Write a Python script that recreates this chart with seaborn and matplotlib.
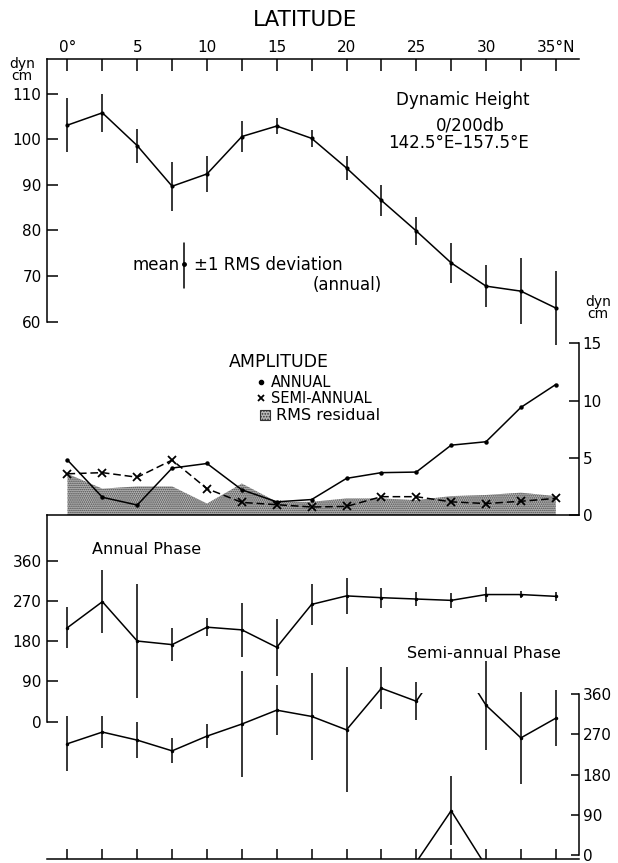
import numpy as np
import pandas as pd
import seaborn as sns
import matplotlib
matplotlib.use("Agg")
import matplotlib.pyplot as plt
from matplotlib.patches import Rectangle
from matplotlib.lines import Line2D

# ---------------- data ----------------
lat = [0, 2.5, 5, 7.5, 10, 12.5, 15, 17.5, 20, 22.5, 25, 27.5, 30, 32.5, 35]

dyn_mean = [103.1, 105.8, 98.6, 89.7, 92.4, 100.6, 102.9, 100.2, 93.7, 86.6, 79.9, 72.9, 67.8, 66.7, 63.0]
dyn_rms = [6.0, 4.1, 3.7, 5.4, 3.9, 3.3, 1.8, 1.9, 2.7, 3.4, 3.1, 4.4, 4.6, 7.2, 8.2]

amp_annual = [4.8, 1.55, 0.87, 4.1, 4.5, 2.2, 1.15, 1.35, 3.2, 3.7, 3.75, 6.1, 6.4, 9.4, 11.4]
amp_semi = [3.6, 3.7, 3.3, 4.8, 2.3, 1.1, 0.9, 0.7, 0.75, 1.6, 1.6, 1.15, 1.0, 1.2, 1.45]
rms_resid = [3.6, 2.3, 2.5, 2.5, 1.0, 2.75, 1.15, 1.15, 1.45, 1.45, 1.3, 1.65, 1.75, 1.95, 1.65]

ann_phase = [210, 268, 180, 172, 211, 205, 166, 262, 281, 277, 274, 271, 284, 284, 280]
ann_err = [46, 70, 127, 37, 20, 60, 64, 46, 40, 22, 15, 17, 17, 8, 10]

semi_phase = [249, 275, 257, 233, 266, 293, 324, 310, 280, 373, 344, 99, 335, 262, 306]
semi_err = [62, 35, 41, 28, 26, 118, 56, 98, 140, 47, 42, 77, 100, 103, 63]

x_major = [0, 5, 10, 15, 20, 25, 30, 35]
x_major_labels = ["0°", "5", "10", "15", "20", "25", "30", "35°N"]
x_minor = [2.5, 7.5, 12.5, 17.5, 22.5, 27.5, 32.5]
dyn_ticks = [60, 70, 80, 90, 100, 110]
amp_ticks = [0, 5, 10, 15]
phase_ticks = [0, 90, 180, 270, 360]

# ---------------- style ----------------
sns.set_style("ticks")
plt.rcParams["font.family"] = ["DejaVu Sans"]
for key in ["text.color", "axes.edgecolor", "axes.labelcolor", "xtick.color", "ytick.color"]:
    plt.rcParams[key] = "black"
plt.rcParams["hatch.linewidth"] = 0.8
plt.rcParams["hatch.color"] = "#444444"

W, H = 618, 863
fig = plt.figure(figsize=(W / 100, H / 100), dpi=100)
fig.patch.set_facecolor("white")

def rect(x0, y0, x1, y1):
    return [x0 / W, 1 - y1 / H, (x1 - x0) / W, (y1 - y0) / H]

def ftext(x, y, s, **kw):
    fig.text(x / W, 1 - y / H, s, **kw)

XL = 46.5
XR = 578.5
xlim = (-1.505, 36.63)
k = "black"
LW = 1.1
STIP = "#b8b8b8"
DOT = dict(marker="o", markersize=2.5, markeredgewidth=0, markerfacecolor=k, markeredgecolor=k)

# ---------------- top panel: dynamic height ----------------
ax1 = fig.add_axes(rect(XL, 59, XR, 321.7))
ax1.set_facecolor("none")
df1 = pd.DataFrame({"lat": lat, "h": dyn_mean, "r": dyn_rms})
sns.lineplot(data=df1, x="lat", y="h", ax=ax1, color=k, lw=LW, **{**DOT, "markersize": 3})
ax1.vlines(df1["lat"], df1["h"] - df1["r"], df1["h"] + df1["r"], color=k, lw=LW,
           clip_on=False)
ax1.set_xlim(*xlim)
ax1.set_ylim(60, 117.6)
for s in ["right", "bottom"]:
    ax1.spines[s].set_visible(False)
for s in ["top", "left"]:
    ax1.spines[s].set_linewidth(LW)
ax1.xaxis.tick_top()
ax1.set_xticks(x_major)
ax1.set_xticklabels(x_major_labels)
ax1.set_xticks(x_minor, minor=True)
ax1.tick_params(axis="x", which="both", direction="in", length=8.5, width=LW,
                top=True, bottom=False, labeltop=True, labelbottom=False,
                labelsize=11, pad=3)
ax1.set_yticks(dyn_ticks)
ax1.tick_params(axis="y", direction="in", length=8, width=LW, labelsize=11, pad=3.5)
ax1.set_xlabel("")
ax1.set_ylabel("")

# ---------------- amplitude panel ----------------
ax2 = fig.add_axes(rect(XL, 343.3, XR, 515))
ax2.set_facecolor("none")
df2 = pd.DataFrame({"lat": lat, "a": amp_annual, "s": amp_semi, "r": rms_resid})
ax2.fill_between(df2["lat"], 0, df2["r"], facecolor=STIP, edgecolor="#444444",
                 hatch="........", linewidth=0, zorder=1)
sns.lineplot(data=df2, x="lat", y="a", ax=ax2, color=k, lw=LW, zorder=3,
             **{**DOT, "markersize": 3.2})
sns.lineplot(data=df2, x="lat", y="s", ax=ax2, color=k, lw=LW, marker="x",
             markersize=5.5, markeredgewidth=1.3, markeredgecolor=k, markerfacecolor=k,
             dashes=False, linestyle=(0, (5, 2.5)), zorder=3)
ax2.set_xlim(*xlim)
ax2.set_ylim(0, 15)
for s in ["left", "top"]:
    ax2.spines[s].set_visible(False)
for s in ["right", "bottom"]:
    ax2.spines[s].set_linewidth(LW)
ax2.yaxis.tick_right()
ax2.set_yticks(amp_ticks)
ax2.tick_params(axis="y", direction="in", length=7, width=LW, labelsize=11, pad=3,
                right=True, left=False, labelright=True, labelleft=False)
ax2.tick_params(axis="x", bottom=False, labelbottom=False)
ax2.set_xlabel("")
ax2.set_ylabel("")

# ---------------- phase panel ----------------
PB = 858.5          # bottom axis line (px)
A0 = 721.5          # annual 0 deg (px)
S0 = 855.0          # semi-annual 0 deg (px)
PPD = 0.447         # px per degree
ax3 = fig.add_axes(rect(XL, 515, XR, PB))
ax3.set_facecolor("none")
ax4 = ax3.twinx()
ax4.set_facecolor("none")

df3 = pd.DataFrame({"lat": lat, "p": ann_phase, "e": ann_err})
sns.lineplot(data=df3, x="lat", y="p", ax=ax3, color=k, lw=LW, **DOT)
ax3.vlines(df3["lat"], df3["p"] - df3["e"], df3["p"] + df3["e"], color=k, lw=LW)

df4 = pd.DataFrame({"lat": lat, "p": semi_phase, "e": semi_err})
ax4.vlines(df4["lat"], df4["p"] - df4["e"], df4["p"] + df4["e"], color=k, lw=LW)
sns.lineplot(data=df4.iloc[0:11], x="lat", y="p", ax=ax4, color=k, lw=LW, **DOT)
sns.lineplot(data=df4.iloc[12:15], x="lat", y="p", ax=ax4, color=k, lw=LW, **DOT)
ax4.set_xlim(*xlim)
ax4.set_ylim(-(PB - S0) / PPD, (S0 - 515) / PPD)
# wrapped part (25 -> 27.5 -> 30): the phase crosses 360/0
seg = df4.iloc[10:13].copy()
seg_hi = seg.copy()
seg_hi.loc[seg_hi.index[1], "p"] = seg_hi["p"].iloc[1] + 360
seg_lo = seg.copy()
seg_lo.loc[[seg_lo.index[0], seg_lo.index[2]], "p"] = seg_lo["p"].iloc[[0, 2]].values - 360
n0 = len(ax4.lines)
sns.lineplot(data=seg_hi, x="lat", y="p", ax=ax4, color=k, lw=LW)
clip_hi = Rectangle((xlim[0], 0), xlim[1] - xlim[0], 362, transform=ax4.transData)
for ln in ax4.lines[n0:]:
    ln.set_clip_path(clip_hi)
sns.lineplot(data=seg_lo, x="lat", y="p", ax=ax4, color=k, lw=LW, markevery=[1], **DOT)

ax3.set_xlim(*xlim)
top3 = (A0 - 515) / PPD
ax3.set_ylim(-(PB - A0) / PPD, top3)
for s in ["top", "right"]:
    ax3.spines[s].set_visible(False)
ax3.spines["left"].set_bounds(0, top3)
for s in ["left", "bottom"]:
    ax3.spines[s].set_linewidth(LW)
ax3.set_yticks(phase_ticks)
ax3.tick_params(axis="y", direction="in", length=8, width=LW, labelsize=11, pad=3.5)
ax3.set_xticks(x_major + x_minor)
ax3.tick_params(axis="x", direction="in", length=7.5, width=LW, labelbottom=False)
ax3.set_xlabel("")
ax3.set_ylabel("")

for s in ["top", "left", "bottom"]:
    ax4.spines[s].set_visible(False)
ax4.spines["right"].set_bounds(0, 360)
ax4.spines["right"].set_linewidth(LW)
ax4.set_yticks(phase_ticks)
ax4.tick_params(axis="y", direction="in", length=6, width=LW, labelsize=11, pad=3)
ax4.set_xlabel("")
ax4.set_ylabel("")

# ---------------- texts ----------------
ftext(305, 20, "LATITUDE", ha="center", va="center", fontsize=15.5)
ftext(22, 70, "dyn\ncm", ha="center", va="center", fontsize=10, linespacing=0.85)
ftext(598, 308, "dyn\ncm", ha="center", va="center", fontsize=10, linespacing=0.85)
ftext(463, 100, "Dynamic Height", ha="center", va="center", fontsize=12)
ftext(470, 125, "0/200db", ha="center", va="center", fontsize=12)
ftext(458, 143, "142.5°E–157.5°E", ha="center", va="center", fontsize=12)

ftext(180, 265, "mean", ha="right", va="center", fontsize=12)
fig.add_artist(Line2D([183.8 / W, 183.8 / W], [1 - 242.7 / H, 1 - 288.3 / H], color=k, lw=LW))
fig.add_artist(Line2D([183.8 / W], [1 - 264 / H], color=k, marker="o", markersize=2.5, lw=0))
ftext(193.5, 265, "±1 RMS deviation", ha="left", va="center", fontsize=12)
ftext(347, 285, "(annual)", ha="center", va="center", fontsize=12)

ftext(279, 362, "AMPLITUDE", ha="center", va="center", fontsize=12.5)
fig.add_artist(Line2D([261 / W], [1 - 382.5 / H], color=k, marker="o", markersize=3, lw=0))
ftext(271, 382.5, "ANNUAL", ha="left", va="center", fontsize=10.5)
fig.add_artist(Line2D([261 / W], [1 - 398 / H], color=k, marker="x", markersize=4.5,
                      markeredgewidth=1.3, markeredgecolor=k, lw=0))
ftext(271, 398, "SEMI-ANNUAL", ha="left", va="center", fontsize=10.5)
fig.patches.append(Rectangle((260 / W, 1 - 420 / H), 10 / W, 10 / H, transform=fig.transFigure,
                             facecolor=STIP, edgecolor="#333333", hatch="......", lw=0.8))
ftext(276.5, 415, "RMS residual", ha="left", va="center", fontsize=11.5)

ftext(92, 550, "Annual Phase", ha="left", va="center", fontsize=11.5)
ftext(407, 654, "Semi-annual Phase", ha="left", va="center", fontsize=11.5)

fig.savefig("out.png", dpi=100, facecolor="white")
